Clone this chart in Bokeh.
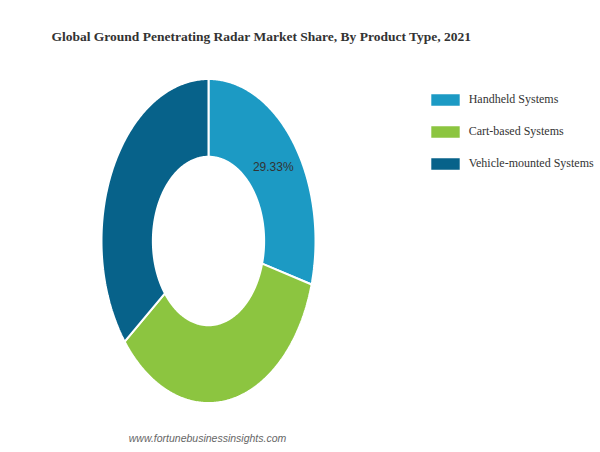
import numpy as np
from bokeh.plotting import figure
from bokeh.models import Range1d, Label, Legend, LegendItem
from bokeh.embed import file_html
from bokeh.resources import INLINE

title = "Global Ground Penetrating Radar Market Share, By Product Type, 2021"
categories = ["Handheld Systems", "Cart-based Systems", "Vehicle-mounted Systems"]
shares = [29.33, 35.00, 35.67]
colors = ["#1c9ac4", "#8cc540", "#07628a"]
shown_labels = ["29.33%", "", ""]
source_text = "www.fortunebusinessinsights.com"

W, H = 600, 452
cx_px, cy_px = 208.0, 240.5   # donut centre in px (from left, from top)
rx_px, ry_px = 107.0, 162.0   # px per unit radius
inner = 0.52

p = figure(width=W, height=H, output_backend="svg", toolbar_location=None,
           x_range=Range1d(-cx_px / rx_px, (W - cx_px) / rx_px),
           y_range=Range1d(-(H - cy_px) / ry_px, cy_px / ry_px),
           min_border=0, outline_line_color=None)
p.axis.visible = False
p.grid.visible = False
p.background_fill_color = "white"
p.border_fill_color = "white"

total = sum(shares)
cum = np.cumsum([0] + shares) / total
items = []
for i, cat in enumerate(categories):
    a0, a1 = 2 * np.pi * cum[i], 2 * np.pi * cum[i + 1]
    t = np.linspace(a0, a1, 200)
    xs = np.concatenate([np.sin(t), inner * np.sin(t[::-1])])
    ys = np.concatenate([np.cos(t), inner * np.cos(t[::-1])])
    r = p.patch(xs, ys, fill_color=colors[i], line_color="white", line_width=2)
    items.append(LegendItem(label=cat, renderers=[r]))
    if shown_labels[i]:
        am = (a0 + a1) / 2
        rm = (1 + inner) / 2
        p.text(x=[rm * np.sin(am)], y=[rm * np.cos(am)], text=[shown_labels[i]],
               text_align="center", text_baseline="middle",
               text_font_size="12px", text_color="#333333",
               text_font={"value": "Liberation Sans"})

legend = Legend(items=items, location=(425.7, H - 171.7), padding=0, margin=0,
                spacing=15, glyph_width=38, glyph_height=17, label_height=17,
                label_standoff=5, border_line_alpha=0, background_fill_alpha=0,
                label_text_font="Liberation Serif", label_text_font_size="12px",
                label_text_color="#333333")
p.add_layout(legend, "center")

p.add_layout(Label(x=261, y=H - 36, x_units="screen", y_units="screen", text=title,
                   text_align="center", text_baseline="middle",
                   text_font="Liberation Serif", text_font_style="bold",
                   text_font_size="13.5px", text_color="#333333"))
p.add_layout(Label(x=207, y=H - 437, x_units="screen", y_units="screen", text=source_text,
                   text_align="center", text_baseline="middle",
                   text_font="Liberation Sans", text_font_style="italic",
                   text_font_size="10.5px", text_color="#666666"))

open("out.html", "w").write(file_html(p, INLINE))
